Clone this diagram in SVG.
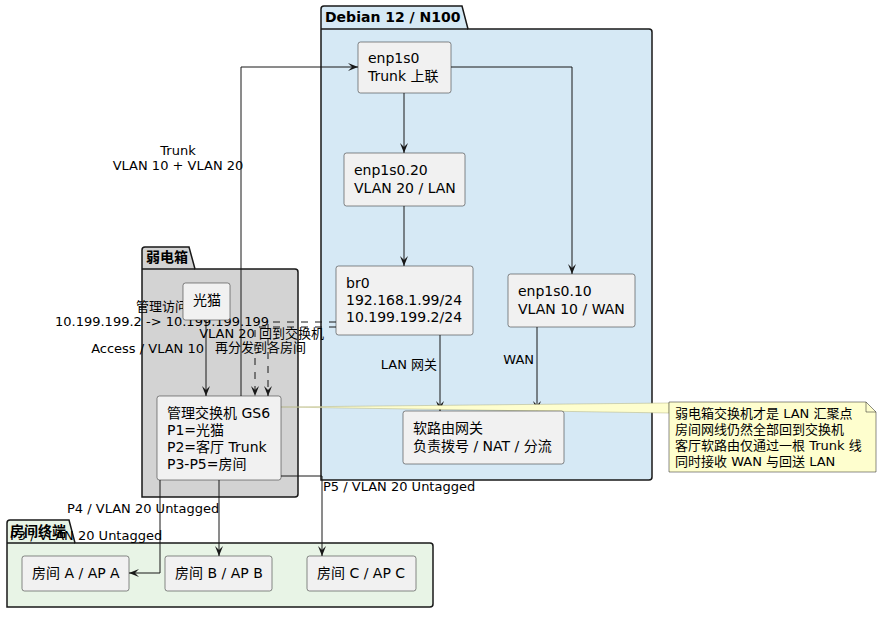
<svg xmlns="http://www.w3.org/2000/svg" width="891" height="621" viewBox="0 0 891 621">
<defs>
<style>
text{font-family:"DejaVu Sans","Noto Sans CJK SC",sans-serif;fill:#000}
.n{fill:#f1f1f1;stroke:#181818;stroke-width:0.5}
.t{font-size:14px}
.l{font-size:13px}
.pk{font-size:14px;font-weight:bold}
.c{fill:none;stroke:#181818;stroke-width:1}
.d{fill:none;stroke:#181818;stroke-width:1;stroke-dasharray:7,7}
</style>
<marker id="a" viewBox="0 0 10 10" refX="10" refY="5" markerWidth="10" markerHeight="10" orient="auto" markerUnits="userSpaceOnUse"><path d="M0,1 L10,5 L0,9 L4,5 Z" fill="#181818"/></marker>
</defs>
<g id="pkg-debian">
<path d="M321,29 V9 Q321,6 324,6 H462 L468,29 H649 Q652,29 652,32 V477 Q652,480 649,480 H321 Z" fill="#d6e9f5" stroke="#181818" stroke-width="1.5"/>
<line x1="321" y1="29" x2="468" y2="29" stroke="#181818" stroke-width="1.5"/>
<text class="pk" x="325" y="22">Debian 12 / N100</text>
</g>
<g id="pkg-box">
<path d="M142,269 V250 Q142,247 145,247 H189 L195,269 H295 Q298,269 298,272 V494 Q298,497 295,497 H142 Z" fill="#d3d3d3" stroke="#181818" stroke-width="1.5"/>
<line x1="142" y1="269" x2="195" y2="269" stroke="#181818" stroke-width="1.5"/>
<text class="pk" x="146" y="262">弱电箱</text>
</g>
<g id="pkg-rooms">
<path d="M7,543 V523 Q7,520 10,520 H69 L75,543 H430 Q433,543 433,546 V604 Q433,607 430,607 H7 Z" fill="#e8f4e6" stroke="#181818" stroke-width="1.5"/>
<line x1="7" y1="543" x2="75" y2="543" stroke="#181818" stroke-width="1.5"/>
<text class="pk" x="10" y="536">房间终端</text>
</g>
<g id="connectors">
<polyline class="c" points="241,396 241,67 358,67" marker-end="url(#a)"/>
<text class="l" x="178" y="155" text-anchor="middle">Trunk</text>
<text class="l" x="178" y="170" text-anchor="middle">VLAN 10 + VLAN 20</text>
<line class="c" x1="404" y1="93" x2="404" y2="153" marker-end="url(#a)"/>
<polyline class="c" points="451,67 572,67 572,274" marker-end="url(#a)"/>
<line class="c" x1="404" y1="206" x2="404" y2="266" marker-end="url(#a)"/>
<line class="c" x1="440" y1="335" x2="440" y2="411" marker-end="url(#a)"/>
<text class="l" x="437" y="369" text-anchor="end">LAN 网关</text>
<line class="c" x1="537" y1="327" x2="537" y2="411" marker-end="url(#a)"/>
<text class="l" x="534" y="364" text-anchor="end">WAN</text>
<line class="c" x1="206" y1="320" x2="206" y2="396" marker-end="url(#a)"/>
<text class="l" x="204" y="353" text-anchor="end">Access / VLAN 10</text>
<polyline class="d" points="336,322 268,322 268,396" marker-end="url(#a)"/>
<polyline class="d" points="336,327 255,327 255,396" marker-end="url(#a)"/>
<text class="l" x="188" y="311" text-anchor="end">管理访问</text>
<text class="l" x="55" y="326">10.199.199.2 -&gt; 10.199.199.199</text>
<text class="l" x="324" y="338" text-anchor="end">VLAN 20 回到交换机</text>
<text class="l" x="306" y="352" text-anchor="end">再分发到各房间</text>
<polyline class="c" points="160,480 160,573 129,573" marker-end="url(#a)"/>
<text class="l" x="10" y="540">P3 / VLAN 20 Untagged</text>
<line class="c" x1="219" y1="480" x2="219" y2="556" marker-end="url(#a)"/>
<text class="l" x="67" y="513">P4 / VLAN 20 Untagged</text>
<polyline class="c" points="281,476 322,476 322,556" marker-end="url(#a)"/>
<text class="l" x="323" y="491">P5 / VLAN 20 Untagged</text>
<path d="M281,407 L669,403 L669,413 Z" fill="#fefece" stroke="#b0b080" stroke-width="0.5"/>
</g>
<g id="enp1s0"><rect class="n" x="358" y="42" width="93" height="51" rx="2.5"/><text class="t" x="368" y="63">enp1s0</text><text class="t" x="368" y="81">Trunk 上联</text></g>
<g id="enp1s0-20"><rect class="n" x="344" y="153" width="121" height="53" rx="2.5"/><text class="t" x="354" y="175">enp1s0.20</text><text class="t" x="354" y="193">VLAN 20 / LAN</text></g>
<g id="br0"><rect class="n" x="336" y="266" width="137" height="69" rx="2.5"/><text class="t" x="346" y="288">br0</text><text class="t" x="346" y="305">192.168.1.99/24</text><text class="t" x="346" y="322">10.199.199.2/24</text></g>
<g id="enp1s0-10"><rect class="n" x="508" y="274" width="127" height="53" rx="2.5"/><text class="t" x="518" y="296">enp1s0.10</text><text class="t" x="518" y="314">VLAN 10 / WAN</text></g>
<g id="router"><rect class="n" x="403" y="411" width="161" height="53" rx="2.5"/><text class="t" x="413" y="433">软路由网关</text><text class="t" x="413" y="451">负责拨号 / NAT / 分流</text></g>
<g id="modem"><rect class="n" x="183" y="283" width="47" height="37" rx="2.5"/><text class="t" x="193" y="305">光猫</text></g>
<g id="switch"><rect class="n" x="157" y="396" width="124" height="84" rx="2.5"/><text class="t" x="167" y="418">管理交换机 GS6</text><text class="t" x="167" y="435">P1=光猫</text><text class="t" x="167" y="452">P2=客厅 Trunk</text><text class="t" x="167" y="469">P3-P5=房间</text></g>
<g id="roomA"><rect class="n" x="22" y="556" width="107" height="35" rx="2.5"/><text class="t" x="32" y="578">房间 A / AP A</text></g>
<g id="roomB"><rect class="n" x="165" y="556" width="107" height="35" rx="2.5"/><text class="t" x="175" y="578">房间 B / AP B</text></g>
<g id="roomC"><rect class="n" x="307" y="556" width="109" height="35" rx="2.5"/><text class="t" x="317" y="578">房间 C / AP C</text></g>
<g id="note">
<path d="M669,402 H866 L876,412 V472 H669 Z" fill="#fefece" stroke="#181818" stroke-width="0.5"/>
<path d="M866,402 V412 H876" fill="none" stroke="#181818" stroke-width="0.5"/>
<text class="l" x="675" y="418">弱电箱交换机才是 LAN 汇聚点</text>
<text class="l" x="675" y="434">房间网线仍然全部回到交换机</text>
<text class="l" x="675" y="450">客厅软路由仅通过一根 Trunk 线</text>
<text class="l" x="675" y="466">同时接收 WAN 与回送 LAN</text>
</g>
</svg>
